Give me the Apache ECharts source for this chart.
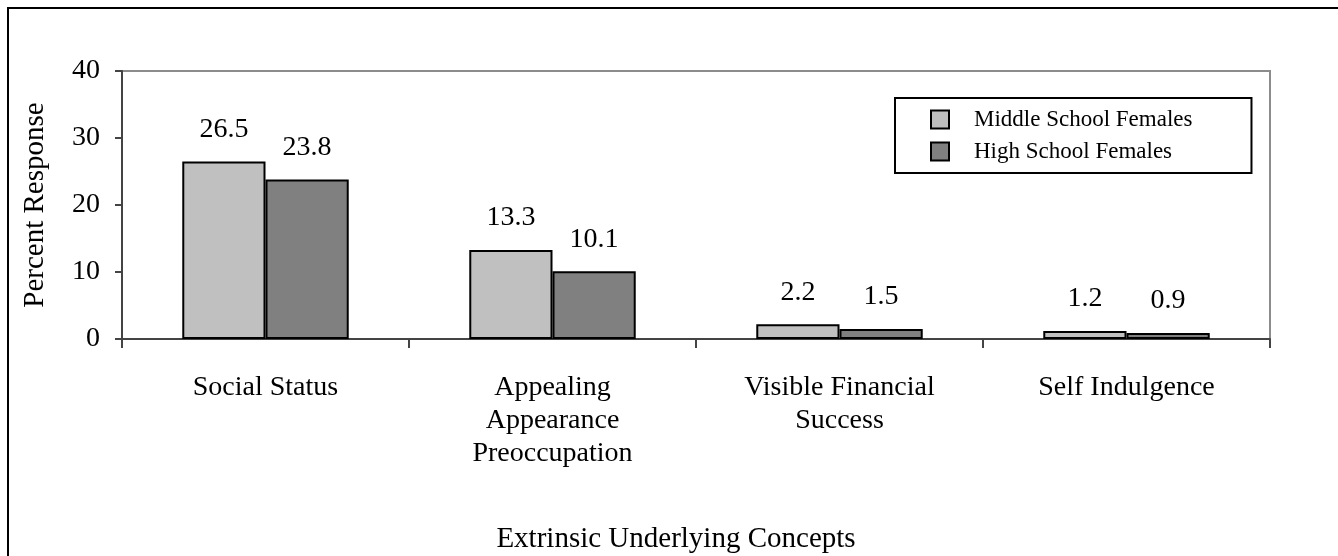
<!DOCTYPE html>
<html>
<head>
<meta charset="utf-8">
<script src="https://cdn.jsdelivr.net/npm/echarts@6/dist/echarts.min.js"></script>
<style>
  html, body { margin: 0; padding: 0; background: #fff; }
  #chart { width: 1338px; height: 556px; }
</style>
</head>
<body>
<div id="chart"></div>
<script>
// Extrinsic concept responses by school level
const categories = [
  'Social Status',
  'Appealing\nAppearance\nPreoccupation',
  'Visible Financial\nSuccess',
  'Self Indulgence'
];
const middleSchoolFemales = [26.5, 13.3, 2.2, 1.2];
const highSchoolFemales = [23.8, 10.1, 1.5, 0.9];
const seriesNames = ['Middle School Females', 'High School Females'];
const yTicks = { min: 0, max: 40, interval: 10 };

const FONT = "'Liberation Serif', 'Times New Roman', serif";

const chart = echarts.init(document.getElementById('chart'), null, { renderer: 'canvas' });

function barSeries(name, data, color) {
  return {
    name: name,
    type: 'bar',
    data: data,
    barGap: '0%',
    barCategoryGap: '42%',
    itemStyle: { color: color, borderColor: '#000', borderWidth: 2 },
    label: {
      show: true,
      position: 'top',
      distance: 18,
      color: '#000',
      fontFamily: FONT,
      fontSize: 28,
      formatter: p => p.value.toFixed(1)
    }
  };
}

chart.setOption({
  animation: false,
  backgroundColor: '#fff',
  graphic: [{
    type: 'rect',
    shape: { x: 8, y: 8, width: 1400, height: 600 },
    style: { fill: 'none', stroke: '#000', lineWidth: 2 },
    z: -1
  }],
  grid: {
    left: 122, right: 68, top: 71, bottom: 217,
    show: true,
    borderColor: '#8c8c8c',
    borderWidth: 2,
    backgroundColor: 'transparent'
  },
  legend: {
    orient: 'vertical',
    left: 895,
    top: 98,
    icon: 'rect',
    itemWidth: 18,
    itemHeight: 18,
    itemGap: 9,
    padding: [10, 59, 10, 35],
    borderColor: '#000',
    borderWidth: 2,
    backgroundColor: '#fff',
    textStyle: { fontFamily: FONT, fontSize: 23, color: '#000', padding: [0, 0, 0, 20] },
    data: seriesNames
  },
  xAxis: {
    type: 'category',
    data: categories,
    name: 'Extrinsic Underlying Concepts',
    nameLocation: 'middle',
    nameGap: 186,
    nameTextStyle: { fontFamily: FONT, fontSize: 29, color: '#000', padding: [0, 40, 0, 0] },
    axisLine: { lineStyle: { color: '#444', width: 2 } },
    axisTick: { show: true, inside: false, length: 9, lineStyle: { color: '#444', width: 2 } },
    axisLabel: {
      margin: 32,
      fontFamily: FONT,
      fontSize: 28,
      lineHeight: 33,
      color: '#000',
      interval: 0
    }
  },
  yAxis: {
    type: 'value',
    min: yTicks.min,
    max: yTicks.max,
    interval: yTicks.interval,
    name: 'Percent Response',
    nameLocation: 'middle',
    nameRotate: 90,
    nameGap: 72,
    nameTextStyle: { fontFamily: FONT, fontSize: 29, color: '#000' },
    splitLine: { show: false },
    axisLine: { show: true, lineStyle: { color: '#444', width: 2 } },
    axisTick: { show: true, inside: false, length: 7, lineStyle: { color: '#444', width: 2 } },
    axisLabel: { margin: 22, fontFamily: FONT, fontSize: 28, color: '#000' }
  },
  series: [
    barSeries(seriesNames[0], middleSchoolFemales, '#c0c0c0'),
    barSeries(seriesNames[1], highSchoolFemales, '#808080')
  ]
});
</script>
</body>
</html>
